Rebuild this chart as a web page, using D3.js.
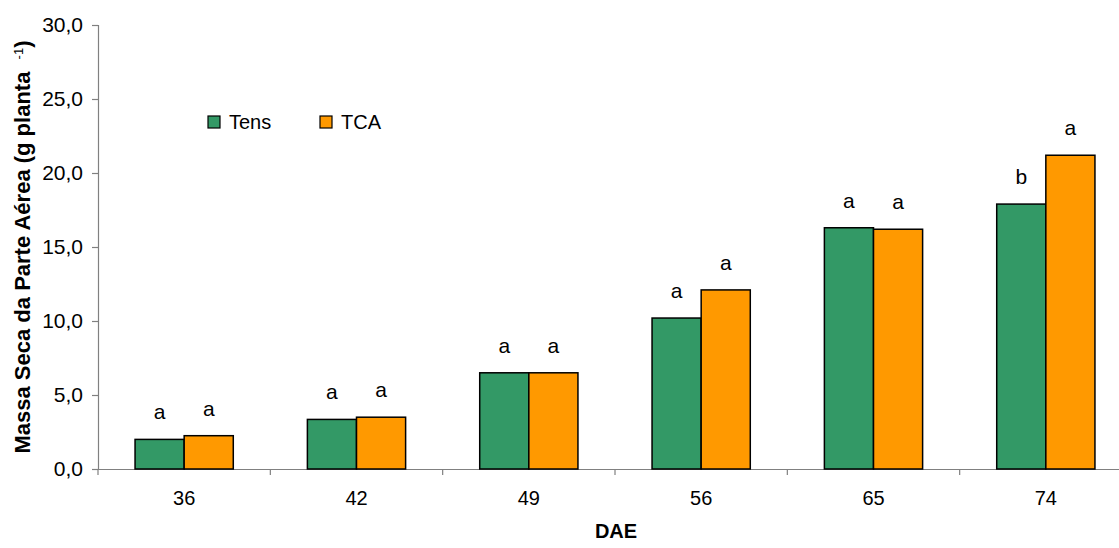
<!DOCTYPE html>
<html><head><meta charset="utf-8">
<script src="https://cdn.jsdelivr.net/npm/d3@7"></script>
<style>body{margin:0;background:#fff}svg{display:block}</style>
</head><body>
<svg id="c" width="1119" height="548"></svg>
<script>
const categories = ["36","42","49","56","65","74"];
const seriesNames = ["Tens","TCA"];
const tensValues = [2.0, 3.35, 6.5, 10.2, 16.3, 17.9];
const tcaValues = [2.25, 3.5, 6.5, 12.1, 16.2, 21.2];
const tensLetters = ["a","a","a","a","a","b"];
const tcaLetters = ["a","a","a","a","a","a"];
const yTicks = [0,5,10,15,20,25,30];
const colors = ["#339966","#FF9900"];

const svg = d3.select("#c");
const font = "'Liberation Sans', Arial, sans-serif";
const x = d3.scaleBand().domain(categories).range([98, 1132]).paddingInner(0).paddingOuter(0);
const y = d3.scaleLinear().domain([0,30]).range([469, 25]);
const barW = x.bandwidth()*0.285;

const data = categories.map((c,i)=>({c, vals:[tensValues[i], tcaValues[i]], letters:[tensLetters[i], tcaLetters[i]]}));

// axes
const yAxis = svg.append("g").attr("transform","translate(98,0)")
  .call(d3.axisLeft(y).tickValues(yTicks).tickSize(6).tickPadding(9).tickFormat(d=>d3.format(".1f")(d).replace(".",",")));
yAxis.selectAll("path,line").attr("stroke","#808080").attr("stroke-width",1.2);
yAxis.selectAll("text").attr("font-family",font).attr("font-size",21).attr("fill","#000");

const xAxis = svg.append("g").attr("transform","translate(0,469)")
  .call(d3.axisBottom(x).tickSize(0).tickPadding(22));
xAxis.select("path").attr("stroke","#808080").attr("stroke-width",1.2);
xAxis.selectAll("text").attr("font-family",font).attr("font-size",20).attr("fill","#000");
// x tick marks at category boundaries
svg.append("g").selectAll("line").data(categories).join("line")
  .attr("x1",d=>x(d)).attr("x2",d=>x(d)).attr("y1",469).attr("y2",475)
  .attr("stroke","#808080").attr("stroke-width",1.2);

// bars
const g = svg.append("g");
data.forEach(d=>{
  const cx = x(d.c) + x.bandwidth()/2;
  d.vals.forEach((v,k)=>{
    const x0 = cx - barW + k*barW;
    g.append("rect").attr("x",x0).attr("y",y(v)).attr("width",barW).attr("height",y(0)-y(v))
      .attr("fill",colors[k]).attr("stroke","#000").attr("stroke-width",1.5);
    g.append("text").attr("x",x0+barW/2).attr("y",y(v)-20).attr("text-anchor","middle")
      .attr("font-family",font).attr("font-size",21).attr("fill","#000").text(d.letters[k]);
  });
});

// legend
const legX = [208, 320];
seriesNames.forEach((s,k)=>{
  svg.append("rect").attr("x",legX[k]).attr("y",116).attr("width",12).attr("height",12)
    .attr("fill",colors[k]).attr("stroke","#000").attr("stroke-width",1.2);
  svg.append("text").attr("x",legX[k]+21).attr("y",129).attr("font-family",font).attr("font-size",20)
    .attr("fill","#000").text(s);
});

// axis titles
svg.append("text").attr("x",616).attr("y",538).attr("text-anchor","middle")
  .attr("font-family",font).attr("font-size",20).attr("font-weight","bold").text("DAE");
const yt = svg.append("text").attr("transform","translate(30,247) rotate(-90)").attr("text-anchor","middle")
  .attr("font-family",font).attr("font-size",22).attr("font-weight","bold");
yt.append("tspan").text("Massa Seca da Parte Aérea (g planta\u00A0\u00A0");
yt.append("tspan").attr("font-size",13).attr("font-weight","normal").attr("dy",-7).text("-1");
yt.append("tspan").attr("dy",7).text(")");
</script>
</body></html>
